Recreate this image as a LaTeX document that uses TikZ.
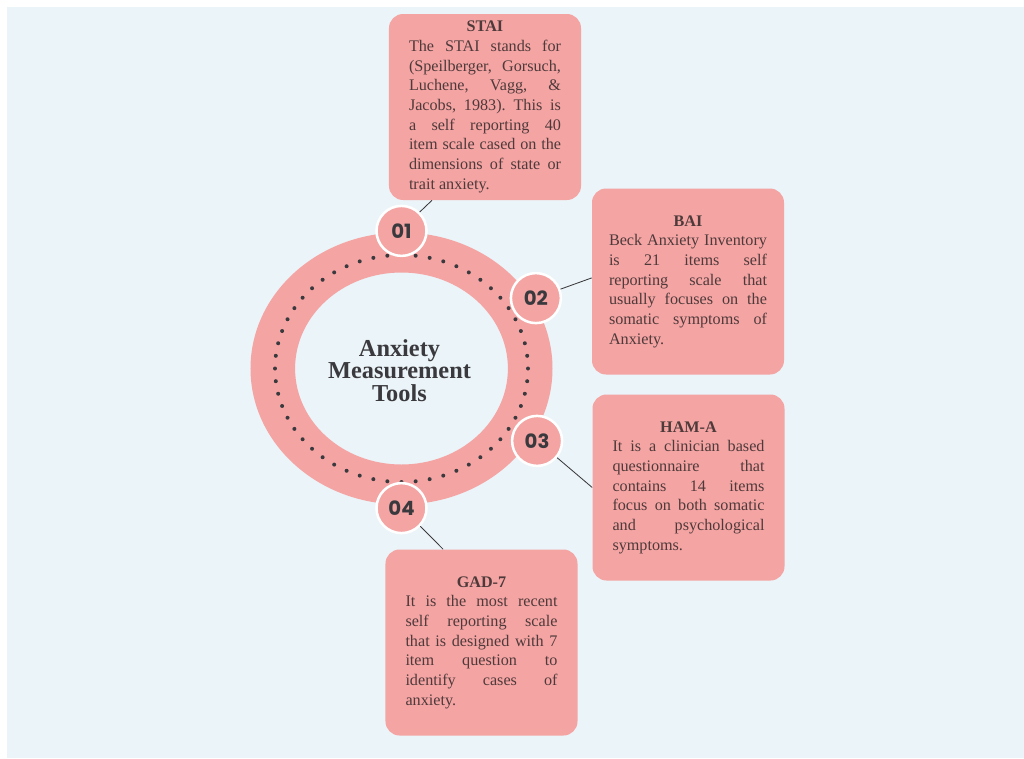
\documentclass[tikz,border=0pt]{standalone}
\usepackage{fontspec}
\setmainfont{Liberation Serif}
\newfontfamily\numfont{Poppins}
\usetikzlibrary{positioning, calc}
\definecolor{mypink}{RGB}{244,164,163}
\definecolor{mybg}{RGB}{235,244,248}
\definecolor{mydark}{RGB}{58,58,62}
\definecolor{mytext}{RGB}{78,58,58}
\setlength{\parindent}{0pt}
\frenchspacing
\newcommand{\boxtitle}[1]{\hfill\textbf{#1}\hfill\null\par}
\tikzset{
  infobox/.style={rectangle, fill=mypink, rounded corners=10pt,
    minimum width=4.8cm, minimum height=4.65cm, text width=3.8cm,
    align=justify, inner sep=0pt, font=\fontsize{11.5}{14}\selectfont, text=mytext},
  numcircle/.style={circle, fill=mypink, draw=white, line width=1.8pt,
    minimum size=1.25cm, inner sep=0pt, font=\numfont\bfseries\fontsize{14}{14}\selectfont, text=mydark},
  link/.style={line width=0.6pt, color=mydark}
}

\begin{document}
\begin{tikzpicture}

  % Background
  \useasboundingbox (-10.0375,-9.7375) rectangle (15.5625,9.2125);
  \fill[white] (-10.0375,-9.7375) rectangle (15.5625,9.2125);
  \fill[mybg] (-9.8625,-9.7375) rectangle (15.5625,9.0375);

  % Ring
  \fill[mypink, even odd rule] (0,0) ellipse [x radius=3.775cm, y radius=3.4cm]
    (0,0) ellipse [x radius=2.66cm, y radius=2.4cm];
  \foreach \i in {1,...,56}
    \fill[mydark] (360/56*\i:3.1625cm and 2.8375cm) circle (0.05cm);

  % Center title
  \node[font=\bfseries\fontsize{17.3}{16}\selectfont, text=mydark, align=center] (title) at (-0.05,-0.05) {Anxiety\\Measurement\\Tools};

  % Number circles
  \node[numcircle] (n1) at (0,3.44) {01};
  \node[numcircle] (n2) at (3.36,1.76) {02};
  \node[numcircle] (n3) at (3.39,-1.81) {03};
  \node[numcircle] (n4) at (0,-3.49) {04};

  % Info boxes
  \node[infobox] (stai) at (2.0875,6.5375) {\boxtitle{STAI}The STAI stands for\linebreak (Speilberger, Gorsuch,\linebreak Luchene, Vagg, \&\linebreak Jacobs, 1983). This is\linebreak a self reporting 40\linebreak item scale cased on the\linebreak dimensions of state or\linebreak trait anxiety.};
  \node[infobox, text width=3.95cm] (bai) at (7.1625,2.175) {\boxtitle{BAI}Beck Anxiety Inventory\linebreak is 21 items self\linebreak reporting scale that\linebreak usually focuses on the\linebreak somatic symptoms of\linebreak Anxiety.};
  \node[infobox] (hama) at (7.175,-2.975) {\boxtitle{HAM-A}It is a clinician based\linebreak questionnaire that\linebreak contains 14 items\linebreak focus on both somatic\linebreak and psychological\linebreak symptoms.};
  \node[infobox] (gad) at (2.0,-6.85) {\boxtitle{GAD-7}It is the most recent\linebreak self reporting scale\linebreak that is designed with 7\linebreak item question to\linebreak identify cases of\linebreak anxiety.};

  % Connectors
  \coordinate (t1) at ([xshift=-1.325cm]stai.south);
  \coordinate (t2) at ([yshift=0.09cm]bai.west);
  \coordinate (t4) at ([xshift=-0.96cm]gad.north);
  \draw[link] (n1.46) -- (t1);
  \draw[link] (n2.20) -- (t2);
  \draw[link] (n3.-40) -- (hama.west);
  \draw[link] (n4.-44) -- (t4);

\end{tikzpicture}
\end{document}
